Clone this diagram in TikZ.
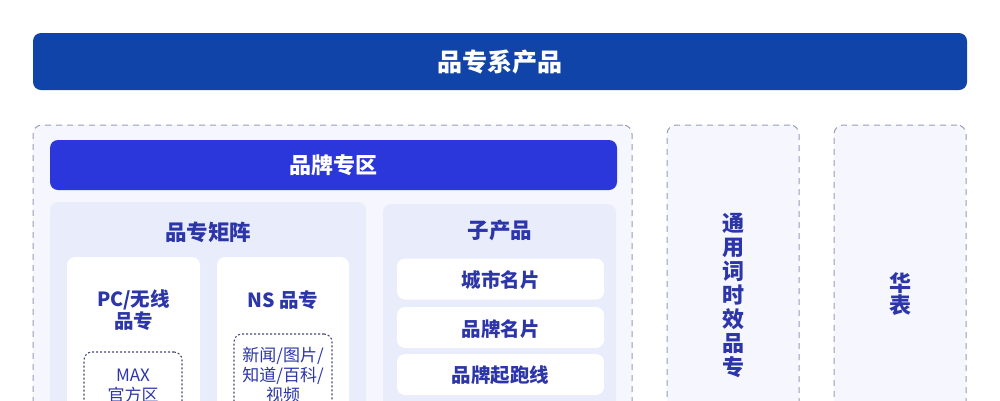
\documentclass[tikz,border=0pt]{standalone}
\usepackage{fontspec}
\setmainfont{Noto Sans CJK SC}
\definecolor{topbar}{RGB}{16,68,168}
\definecolor{zonebar}{RGB}{43,54,219}
\definecolor{txtblue}{RGB}{44,54,168}
\definecolor{zonebg}{RGB}{246,247,254}
\definecolor{panelbg}{RGB}{233,236,250}
\definecolor{dashline}{RGB}{150,156,186}
\definecolor{tagline}{RGB}{70,74,118}

\begin{document}
\begin{tikzpicture}[x=1pt, y=-1pt,
		box/.style={rectangle, inner sep=0pt},
		bar/.style={box, rounded corners=8},
		zone/.style={box, rounded corners=9, draw=dashline, fill=zonebg, line width=1pt, dash pattern=on 6pt off 5pt},
		panel/.style={box, rounded corners=8, fill=panelbg},
		card/.style={box, rounded corners=8, fill=white},
		tag/.style={box, rounded corners=8, draw=tagline, line width=1.1pt, dash pattern=on 2pt off 2pt},
		bartxt/.style={text=white, font=\bfseries\fontsize{22}{26}\selectfont},
		headtxt/.style={text=txtblue, font=\bfseries\fontsize{21.5}{24}\selectfont},
		cardtxt/.style={text=txtblue, align=center, font=\bfseries\fontsize{19.5}{20}\selectfont},
		tagtxt/.style={text=txtblue, align=center, font=\fontsize{17}{20}\selectfont}]
			\useasboundingbox (0,0) rectangle (1000,400);
			\clip (0,0) rectangle (1000,400);
			% top bar
			\node[bar, fill=topbar, minimum width=934, minimum height=57] (PZXCP) at (500, 61.5) {};
			\node[bartxt, font=\bfseries\fontsize{25}{28}\selectfont] (PZXCPtxt) at (500, 62) {品专系产品};
			% dashed zones
			\node[zone, minimum width=599, minimum height=315] (PPZQzone) at (332.5, 282.5) {};
			\node[zone, minimum width=132, minimum height=315] (TYC) at (733, 282.5) {};
			\node[zone, minimum width=132, minimum height=315] (HB) at (900, 282.5) {};
			% brand zone
			\node[bar, fill=zonebar, minimum width=567, minimum height=50] (PPZQ) at (333.5, 165) {};
			\node[bartxt] (PPZQtxt) at (333.5, 165) {品牌专区};
			% matrix panel
			\node[panel, minimum width=316, minimum height=238] (PZJZ) at (208, 321) {};
			\node[headtxt] (PZJZtxt) at (208, 232) {品专矩阵};
			\node[card, minimum width=133, minimum height=183] (PC) at (133.5, 348.5) {};
			\node[cardtxt] (PCtxt) at (133.5, 310) {PC/无线\\品专};
			\node[tag, minimum width=98, minimum height=88] (MAX) at (133, 396) {};
			\node[tagtxt] (MAXtxt) at (133, 386) {MAX\\官方区};
			\node[card, minimum width=132, minimum height=183] (NS) at (283, 348.5) {};
			\node[cardtxt] (NStxt) at (283, 300) {NS 品专};
			\node[tag, minimum width=98, minimum height=106] (NEWS) at (283, 387) {};
			\node[tagtxt] (NEWStxt) at (283, 375) {新闻/图片/\\知道/百科/\\视频};
			% sub products
			\node[panel, minimum width=233, minimum height=236] (ZCP) at (499.5, 322) {};
			\node[headtxt] (ZCPtxt) at (500, 230) {子产品};
			\node[card, minimum width=207, minimum height=41] (CSMP) at (500.5, 279) {};
			\node[cardtxt] (CSMPtxt) at (500.5, 280) {城市名片};
			\node[card, minimum width=207, minimum height=41] (PPMP) at (500.5, 327.5) {};
			\node[cardtxt] (PPMPtxt) at (500.5, 329) {品牌名片};
			\node[card, minimum width=207, minimum height=41] (PPQPX) at (500.5, 374.5) {};
			\node[cardtxt] (PPQPXtxt) at (500.5, 375.5) {品牌起跑线};
			% vertical labels
			\node[headtxt, align=center, font=\bfseries\fontsize{22}{24}\selectfont] (TYCtxt) at (733, 295) {通\\用\\词\\时\\效\\品\\专};
			\node[headtxt, align=center, font=\bfseries\fontsize{22}{22}\selectfont] (HBtxt) at (900, 294) {华\\表};
		\end{tikzpicture}
\end{document}
